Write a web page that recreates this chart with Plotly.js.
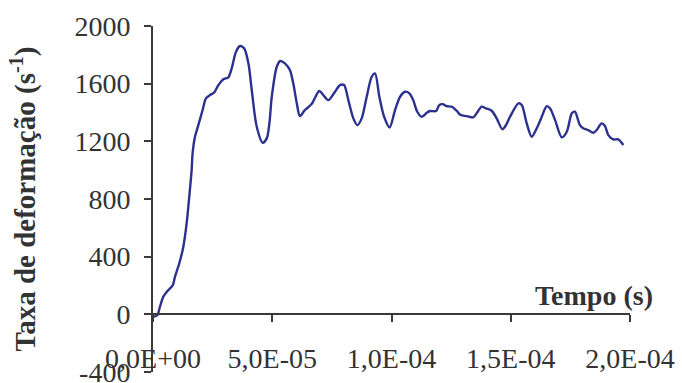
<!DOCTYPE html>
<html>
<head>
<meta charset="utf-8">
<script src="https://cdn.plot.ly/plotly-3.0.1.min.js"></script>
<style>html,body{margin:0;padding:0;background:#fff;}#chart{width:682px;height:383px;}</style>
</head>
<body>
<div id="chart"></div>
<script>
// Tempo (s)
const tempo = [0.1e-6, 1.8e-6, 2.9e-6, 4.3e-6, 6.4e-6, 8.3e-6, 9.2e-6, 11.0e-6, 12.7e-6, 14.1e-6,
  15.2e-6, 16.2e-6, 16.6e-6, 17.6e-6, 19.0e-6, 20.8e-6, 22.2e-6, 23.9e-6, 25.6e-6, 27.4e-6,
  29.5e-6, 31.6e-6, 33.0e-6, 34.8e-6, 36.5e-6, 38.2e-6, 40.0e-6, 41.4e-6, 43.5e-6, 46.0e-6,
  47.7e-6, 48.8e-6, 49.8e-6, 51.9e-6, 53.3e-6, 55.3e-6, 57.4e-6, 58.8e-6, 60.3e-6, 61.6e-6,
  63.7e-6, 66.5e-6, 69.7e-6, 71.4e-6, 73.5e-6, 76.3e-6, 78.4e-6, 80.1e-6, 81.9e-6, 84.0e-6,
  85.7e-6, 87.5e-6, 89.6e-6, 91.7e-6, 93.1e-6, 94.9e-6, 96.9e-6, 99.2e-6, 101.5e-6, 103.6e-6,
  105.7e-6, 107.5e-6, 109.1e-6, 110.8e-6, 112.7e-6, 114.8e-6, 116.1e-6, 118.7e-6, 120.0e-6, 121.5e-6,
  123.1e-6, 125.2e-6, 127.3e-6, 129.0e-6, 131.5e-6, 134.3e-6, 135.7e-6, 137.8e-6, 139.6e-6, 142.0e-6,
  144.1e-6, 146.5e-6, 148.0e-6, 149.7e-6, 153.2e-6, 154.6e-6, 156.7e-6, 158.8e-6, 160.9e-6, 163.0e-6,
  165.1e-6, 166.5e-6, 168.6e-6, 171.4e-6, 173.5e-6, 175.6e-6, 176.9e-6, 179.0e-6, 180.4e-6, 182.5e-6,
  184.6e-6, 186.0e-6, 188.1e-6, 189.5e-6, 190.9e-6, 193.0e-6, 195.1e-6, 197.2e-6];
// Taxa de deformação (1/s)
const taxa = [-19, -7, 51, 120, 167, 201, 259, 352, 467, 630,
  815, 1000, 1116, 1231, 1312, 1417, 1498, 1521, 1537, 1590,
  1630, 1644, 1706, 1821, 1861, 1845, 1741, 1556, 1301, 1190,
  1220, 1324, 1509, 1717, 1757, 1741, 1694, 1602, 1463, 1375,
  1417, 1458, 1549, 1521, 1486, 1544, 1590, 1590, 1486, 1359,
  1312, 1359, 1509, 1648, 1671, 1509, 1370, 1296, 1417, 1509,
  1544, 1533, 1486, 1405, 1370, 1398, 1410, 1410, 1451, 1458,
  1444, 1440, 1412, 1382, 1375, 1366, 1394, 1440, 1428, 1412,
  1359, 1283, 1312, 1370, 1463, 1451, 1324, 1231, 1290, 1370,
  1444, 1428, 1347, 1227, 1266, 1394, 1405, 1312, 1290, 1278,
  1259, 1278, 1324, 1306, 1243, 1213, 1213, 1174];

const xTickVals = [0, 5e-5, 1e-4, 1.5e-4, 2e-4];
const xTickText = ['0,0E+00', '5,0E-05', '1,0E-04', '1,5E-04', '2,0E-04'];
const yTickVals = [-400, 0, 400, 800, 1200, 1600, 2000];
const yTickText = ['-400', '0', '400', '800', '1200', '1600', '2000'];

const axisColor = '#3a3a3a';
const textColor = '#333333';
const font = 'Liberation Serif, Times New Roman, serif';

Plotly.newPlot('chart', [{
  x: tempo, y: taxa, type: 'scatter', mode: 'lines',
  line: {color: '#2C3190', width: 2.4, shape: 'spline', smoothing: 0.8},
  hoverinfo: 'skip'
}], {
  width: 682, height: 383,
  margin: {l: 153, r: 52, t: 26, b: 11, pad: 0},
  paper_bgcolor: '#ffffff', plot_bgcolor: '#ffffff',
  showlegend: false,
  font: {family: font, color: textColor, size: 28},
  xaxis: {
    range: [0, 2e-4], tickvals: xTickVals, ticktext: xTickText,
    anchor: 'free', position: 400 / 2400,
    showline: true, linecolor: axisColor, linewidth: 2,
    ticks: 'outside', ticklen: 7, tickwidth: 2, tickcolor: axisColor,
    ticklabelstandoff: 12, ticklabeloverflow: 'allow',
    showgrid: false, zeroline: false,
    tickfont: {family: font, size: 28, color: textColor}
  },
  yaxis: {
    range: [-401, 2000], tickvals: yTickVals, ticktext: yTickText,
    showline: true, linecolor: axisColor, linewidth: 2,
    ticks: 'outside', ticklen: 7, tickwidth: 2, tickcolor: axisColor,
    ticklabelstandoff: 8, ticklabeloverflow: 'allow',
    showgrid: false, zeroline: false,
    tickfont: {family: font, size: 28, color: textColor},
    title: {text: '<b>Taxa de deformação (s<sup>-1</sup>)</b>', standoff: 30,
      font: {family: font, size: 29, color: textColor}}
  },
  annotations: [{
    text: '<b>Tempo (s)</b>', xref: 'paper', yref: 'paper',
    x: 0.925, y: 0.2225, xanchor: 'center', yanchor: 'middle', showarrow: false,
    font: {family: font, size: 28, color: textColor}
  }]
}, {displayModeBar: false, staticPlot: true});
</script>
</body>
</html>
